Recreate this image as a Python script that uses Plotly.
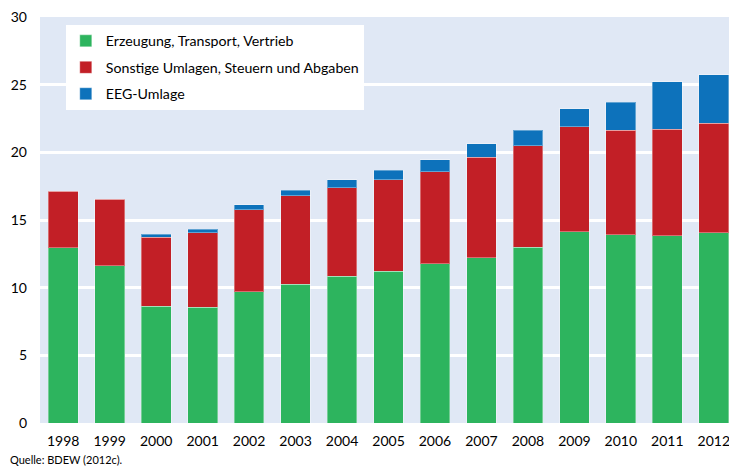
import plotly.graph_objects as go

jahre = ['1998','1999','2000','2001','2002','2003','2004','2005','2006','2007','2008','2009','2010','2011','2012']
erzeugung = [12.96,11.63,8.62,8.57,9.70,10.25,10.86,11.23,11.77,12.21,13.00,14.14,13.92,13.82,14.06]
sonstige = [4.15,4.90,5.12,5.50,6.06,6.53,6.52,6.74,6.81,7.41,7.49,7.76,7.72,7.88,8.09]
eeg = [0,0,0.20,0.25,0.35,0.41,0.58,0.69,0.88,1.02,1.16,1.31,2.05,3.53,3.59]

serien = [
    ('Erzeugung, Transport, Vertrieb', erzeugung, '#2db45e'),
    ('Sonstige Umlagen, Steuern und Abgaben', sonstige, '#c21f26'),
    ('EEG-Umlage', eeg, '#0d72bb'),
]

fig = go.Figure()
for i, (name, werte, farbe) in enumerate(serien):
    fig.add_trace(go.Bar(x=jahre, y=werte, name=name, legendgroup=str(i),
                         marker=dict(color=farbe, line=dict(color='rgba(255,255,255,0.35)', width=1))))

# page body has an 8px margin, so the figure is a bit smaller than the window
fig.update_layout(
    width=729, height=463,
    barmode='stack', bargap=0.36,
    font=dict(family='Lato', size=14, color='black'),
    paper_bgcolor='white', plot_bgcolor='#e0e8f5',
    margin=dict(l=32, r=0, t=9, b=48),
    legend=dict(x=0.037, y=0.98, xanchor='left', yanchor='top', bgcolor='white',
                traceorder='grouped', tracegroupgap=5, itemwidth=30, font=dict(size=14.2)),
    showlegend=True,
)
fig.update_xaxes(showgrid=False, ticks='', ticklabelstandoff=8)
fig.update_yaxes(range=[0, 30], dtick=5, showgrid=True, gridcolor='white', gridwidth=3,
                 zeroline=False, ticks='', ticklabelstandoff=12, ticklabeloverflow='allow')
fig.add_annotation(text='Quelle: BDEW (2012c).', xref='paper', yref='paper', x=-0.046, y=-0.112,
                   xanchor='left', yanchor='bottom', showarrow=False, font=dict(size=11))

fig.write_html("out.html")
